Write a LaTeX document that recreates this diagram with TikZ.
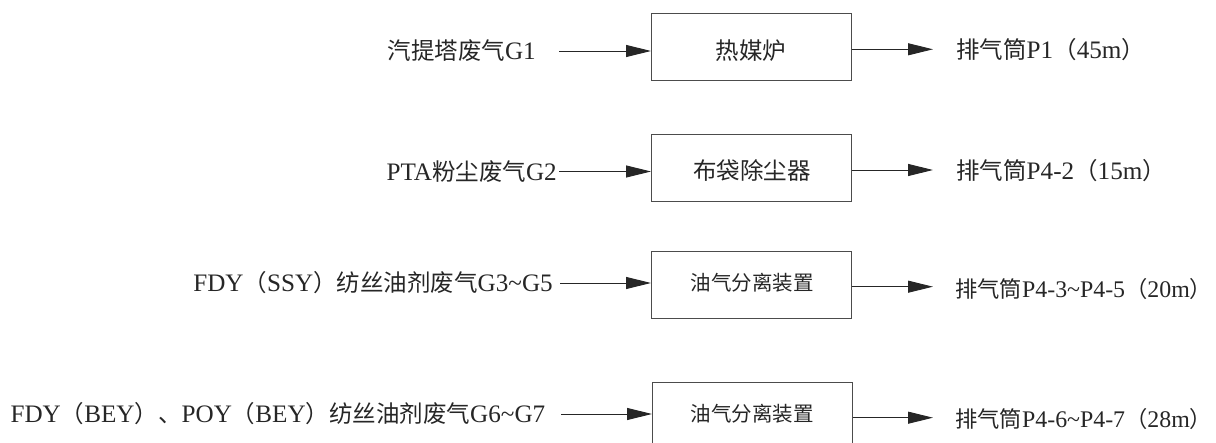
\documentclass[tikz,border=0pt]{standalone}
\usepackage{fontspec}
\setmainfont{Liberation Serif}[Scale=1.07]
\newfontfamily\cjk{Noto Sans CJK SC}
\usetikzlibrary{arrows.meta}
\begin{document}
\begin{tikzpicture}[x=1pt,y=-1pt,
  box/.style={draw=black!70, line width=1pt, minimum width=200pt, minimum height=67pt, inner sep=0pt, anchor=north west},
  lbl/.style={inner sep=0pt, text=black!85, font=\fontsize{23.5}{28}\selectfont},
  lblsm/.style={inner sep=0pt, text=black!85, font=\fontsize{22.3}{27}\selectfont},
  btxt/.style={inner sep=0pt, text=black!85, font=\fontsize{23.5}{28}\selectfont},
  stxt/.style={inner sep=0pt, text=black!85, font=\fontsize{20.5}{24}\selectfont},
  flow/.style={line width=0.9pt, draw=black!85, -{Triangle[length=25pt,width=12pt]}}]
\useasboundingbox (0,0) rectangle (1216,443);
\clip (0,0) rectangle (1216,443);
% boxes
\node[box] (b1) at (651,13.5) {};
\node[box] (b2) at (651,134) {};
\node[box] (b3) at (651,251) {};
\node[box] (b4) at (652,382) {};
\node[btxt] (t1) at (751,51) {\cjk 热媒炉};
\node[btxt] (t2) at (752,171) {\cjk 布袋除尘器};
\node[stxt] (t3) at (752,283) {\cjk 油气分离装置};
\node[stxt] (t4) at (752,414) {\cjk 油气分离装置};
% input labels
\node[lbl, anchor=east] (i1) at (536,51) {{\cjk 汽提塔废气}G1};
\node[lbl, anchor=east] (i2) at (557,171.5) {PTA{\cjk 粉尘废气}G2};
\node[lbl, anchor=east] (i3) at (553,283) {FDY{\cjk （}SSY{\cjk ）纺丝油剂废气}G3\char`~G5};
\node[lbl, anchor=east] (i4) at (545.5,414) {FDY{\cjk （}BEY{\cjk ）、}POY{\cjk （}BEY{\cjk ）纺丝油剂废气}G6\char`~G7};
% output labels
\node[lbl, anchor=west] (o1t) at (956,50) {{\cjk 排气筒}P1{\cjk （}45m{\cjk ）}};
\node[lbl, anchor=west] (o2t) at (956,171) {{\cjk 排气筒}P4-2{\cjk （}15m{\cjk ）}};
\node[lblsm, anchor=west] (o3t) at (955,289) {{\cjk 排气筒}P4-3\char`~P4-5{\cjk （}20m{\cjk ）}};
\node[lblsm, anchor=west] (o4t) at (955,419) {{\cjk 排气筒}P4-6\char`~P4-7{\cjk （}28m{\cjk ）}};
% connector ends
\coordinate (s1) at (559,51);
\coordinate (s2) at (559,171.5);
\coordinate (s3) at (560,283);
\coordinate (s4) at (561,414);
\coordinate (e1) at (933,49.3);
\coordinate (e2) at (933,170);
\coordinate (e3) at (933,286.7);
\coordinate (e4) at (933,417.7);
% arrows
\draw[flow] (s1) -- (s1 -| b1.west);
\draw[flow] (s2) -- (s2 -| b2.west);
\draw[flow] (s3) -- (s3 -| b3.west);
\draw[flow] (s4) -- (s4 -| b4.west);
\draw[flow] (e1 -| b1.east) -- (e1);
\draw[flow] (e2 -| b2.east) -- (e2);
\draw[flow] (e3 -| b3.east) -- (e3);
\draw[flow] (e4 -| b4.east) -- (e4);
\end{tikzpicture}
\end{document}
